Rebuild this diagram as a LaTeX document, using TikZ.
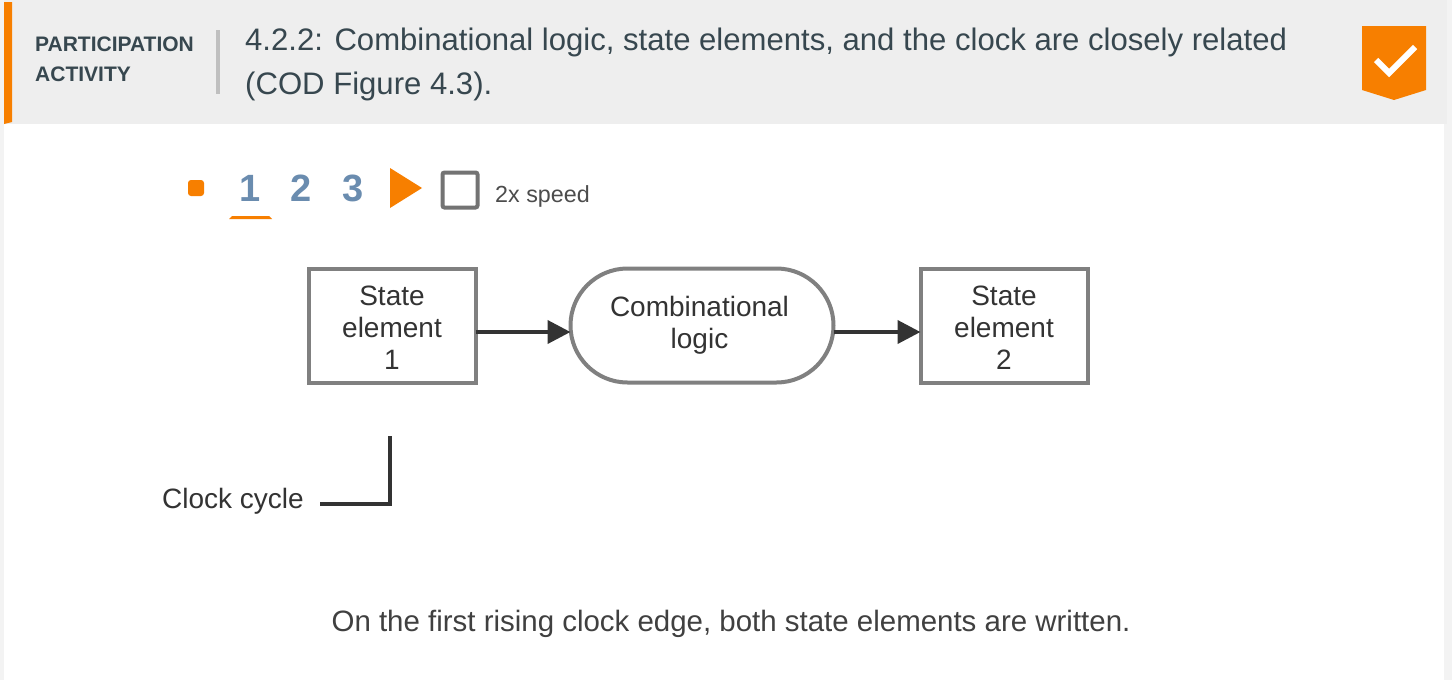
\documentclass[tikz,border=0pt]{standalone}
\usepackage{fontspec}
\setmainfont{Liberation Sans}
\usetikzlibrary{arrows.meta,positioning}
\definecolor{zyorange}{HTML}{F77F00}
\definecolor{zyslate}{HTML}{37474F}
\definecolor{zyblue}{HTML}{6A8CAF}
\definecolor{zygray}{HTML}{808080}
\definecolor{zyink}{HTML}{333333}
\definecolor{zypanel}{HTML}{EEEEEE}
\newcommand{\toppad}{\rule{0pt}{24pt}}
\tikzset{
  logicbox/.style={rectangle,draw=zygray,fill=white,line width=4pt,
    minimum width=263pt,minimum height=114pt,align=center,rounded corners=57pt,
    font=\fontsize{28}{32}\selectfont,text=zyink,inner sep=0pt,outer sep=0pt},
  statebox/.style={logicbox,rounded corners=0pt,minimum width=167pt},
  arrow/.style={-{Triangle[length=23pt,width=23pt]},line width=4pt,draw=zyink},
  clockline/.style={line width=3.5pt,draw=zyink},
  stepnum/.style={font=\fontsize{38}{38}\selectfont\bfseries,text=zyblue,inner sep=0pt},
  titletext/.style={font=\fontsize{31.1}{44}\selectfont,text=zyslate,align=left,inner sep=0pt},
}
\begin{document}
\begin{tikzpicture}[x=1pt,y=-1pt,node distance=95pt]
  \useasboundingbox (0,0) rectangle (1452,680);
  \fill[zypanel!70!white] (0,0) rectangle (1452,680);
  \fill[white] (4,124) rectangle (1444,680);
  \fill[zypanel] (4,0) rectangle (1447,124);
  \fill[zyorange] (4,2) -- (12,2) -- (12,122) -- (4,124) -- cycle;
  % header
  \node[anchor=west,font=\fontsize{21}{30}\selectfont\bfseries,text=zyslate,align=left,inner sep=0pt] (kind) at (35,59) {PARTICIPATION\\ACTIVITY};
  \fill[black!25] (216,30) rectangle (220,94);
  \node[titletext,anchor=west] (title) at (245,64) {4.2.2: Combinational logic, state elements, and the clock are closely related\\(COD Figure 4.3).};
  \fill[zyorange] (1362,26) -- (1426,26) -- (1426,90) -- (1394,100) -- (1362,90) -- cycle;
  \draw[white,line width=6pt] (1376,60) -- (1389,73) -- (1415,47);
  % player controls
  \node[rectangle,rounded corners=3pt,fill=zyorange,minimum size=16pt,inner sep=0pt] (dot) at (196,188) {};
  \node[stepnum] (one) at (250,188) {1};
  \node[stepnum,right=30pt of one] (two) {2};
  \node[stepnum,right=30pt of two] (three) {3};
  \fill[zyorange] (229,219) -- (232,216) -- (269,216) -- (272,219) -- cycle;
  \fill[zyorange] (390,168) -- (422,188) -- (390,208) -- cycle;
  \node[rectangle,rounded corners=2pt,draw=black!55,line width=4pt,minimum size=35pt,inner sep=0pt] (speedbox) at (460,190) {};
  \node[anchor=west,font=\fontsize{23.3}{24}\selectfont,text=black!70,inner sep=0pt] (speed) at (495,196) {2x speed};
  % diagram
  \node[statebox] (state1) at (392,325.5) {\toppad State\\element\\1};
  \node[logicbox,right=of state1] (logic) {Combinational\hspace*{5pt}\\logic\hspace*{5pt}};
  \node[statebox,right=87pt of logic] (state2) {\toppad State\\element\\2};
  \draw[arrow] ([yshift=-6.5pt]state1.east) -- ([yshift=-6.5pt]logic.west);
  \draw[arrow] ([yshift=-6.5pt]logic.east) -- ([yshift=-6.5pt]state2.west);
  \node[anchor=west,font=\fontsize{28}{32}\selectfont,text=zyink,inner sep=0pt] (clock) at (162,501) {Clock cycle};
  \coordinate (clocktop) at (390,436);
  \coordinate (clockend) at (320,504);
  \draw[clockline] (clocktop) |- (clockend);
  \node[font=\fontsize{29.45}{34}\selectfont,text=black!75,inner sep=0pt] (caption) at (731,624) {On the first rising clock edge, both state elements are written.};
\end{tikzpicture}
\end{document}
